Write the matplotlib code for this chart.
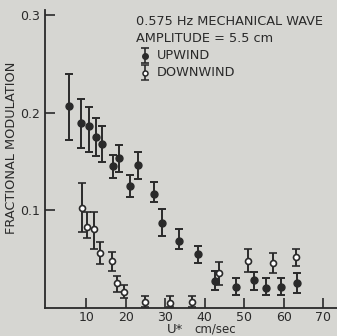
import matplotlib
matplotlib.use('Agg')
import matplotlib.pyplot as plt

# upwind (filled circles): U* (cm/sec), fractional modulation, error bar low/high
up_u = [5.7, 8.7, 10.7, 12.5, 13.9, 16.7, 18.4, 21.0, 23.1, 27.1, 29.3, 33.6, 38.2, 42.7, 47.8, 52.5, 55.4, 59.4, 63.3]
up_m = [0.207, 0.189, 0.186, 0.175, 0.168, 0.145, 0.154, 0.125, 0.146, 0.117, 0.087, 0.069, 0.055, 0.028, 0.022, 0.029, 0.021, 0.022, 0.026]
up_lo = [0.172, 0.164, 0.160, 0.156, 0.150, 0.133, 0.139, 0.114, 0.132, 0.109, 0.074, 0.060, 0.046, 0.019, 0.013, 0.019, 0.013, 0.013, 0.015]
up_hi = [0.240, 0.214, 0.206, 0.195, 0.186, 0.157, 0.167, 0.136, 0.160, 0.129, 0.101, 0.081, 0.064, 0.038, 0.031, 0.037, 0.031, 0.031, 0.036]

# downwind (open circles)
dn_u = [8.9, 10.3, 11.9, 13.5, 16.5, 17.9, 19.6, 25.0, 31.3, 36.8, 43.7, 50.9, 57.2, 63.2]
dn_m = [0.102, 0.083, 0.081, 0.056, 0.048, 0.026, 0.017, 0.006, 0.005, 0.006, 0.036, 0.048, 0.046, 0.052]
dn_lo = [0.078, 0.072, 0.060, 0.045, 0.038, 0.017, 0.010, 0.001, 0.001, 0.001, 0.024, 0.037, 0.036, 0.043]
dn_hi = [0.128, 0.098, 0.098, 0.068, 0.057, 0.033, 0.024, 0.012, 0.012, 0.012, 0.047, 0.060, 0.056, 0.061]

x_ticks = [10, 20, 30, 40, 50, 60, 70]
y_ticks = [0.1, 0.2, 0.3]

INK = '#2a2a2a'
PAPER = '#d6d6d2'

fig = plt.figure(figsize=(3.37, 3.36), dpi=100, facecolor=PAPER)
ax = fig.add_axes([0.134, 0.083, 0.866, 0.887])
ax.set_facecolor(PAPER)

def errs(m, lo, hi):
    return [[a - b for a, b in zip(m, lo)], [c - a for a, c in zip(m, hi)]]

ax.errorbar(up_u, up_m, yerr=errs(up_m, up_lo, up_hi), fmt='o', color=INK,
            markersize=5, elinewidth=1.4, capsize=3, capthick=1.4)
ax.errorbar(dn_u, dn_m, yerr=errs(dn_m, dn_lo, dn_hi), fmt='o', color=INK,
            markerfacecolor='white', markeredgewidth=1.2,
            markersize=4.3, elinewidth=1.4, capsize=3, capthick=1.4)

ax.set_xlim(-0.4, 73.5)
ax.set_ylim(0, 0.305)
ax.set_xticks(x_ticks)
ax.set_yticks(y_ticks)
ax.set_xticklabels([str(t) for t in x_ticks])
ax.set_yticklabels(['0.1', '0.2', '0.3'])
ax.tick_params(axis='both', direction='in', length=7, width=1.2, colors=INK,
               labelsize=9)
ax.tick_params(axis='x', pad=2)
ax.tick_params(axis='y', pad=4)
for s in ['top', 'right']:
    ax.spines[s].set_visible(False)
for s in ['left', 'bottom']:
    ax.spines[s].set_color(INK)
    ax.spines[s].set_linewidth(1.3)

fig.text(0.035, 0.56, 'FRACTIONAL MODULATION', rotation=90, ha='center', va='center',
         fontsize=9.3, color=INK)
fig.text(0.52, 0.0, 'U*', ha='center', va='bottom', fontsize=9.5, color=INK)
fig.text(0.64, 0.0, 'cm/sec', ha='center', va='bottom', fontsize=8.5, color=INK)

fig.text(0.405, 0.935, '0.575 Hz MECHANICAL WAVE', ha='left', va='center', fontsize=9.3, color=INK)
fig.text(0.405, 0.884, 'AMPLITUDE = 5.5 cm', ha='left', va='center', fontsize=9.3, color=INK)
fig.text(0.465, 0.834, 'UPWIND', ha='left', va='center', fontsize=9.3, color=INK)
fig.text(0.465, 0.785, 'DOWNWIND', ha='left', va='center', fontsize=9.3, color=INK)

# legend symbols
lax = fig.add_axes([0.41, 0.755, 0.04, 0.11])
lax.set_xlim(0, 1)
lax.set_ylim(0, 1)
lax.axis('off')
lax.errorbar([0.5], [0.72], yerr=[[0.2], [0.22]], fmt='o', color=INK, markersize=4,
             elinewidth=1.2, capsize=2.8, capthick=1.2)
lax.errorbar([0.5], [0.26], yerr=[[0.2], [0.2]], fmt='o', color=INK, markerfacecolor='white',
             markeredgewidth=1.1, markersize=3.6, elinewidth=1.2, capsize=2.8, capthick=1.2)

fig.savefig('out.png', dpi=100, facecolor=PAPER)
